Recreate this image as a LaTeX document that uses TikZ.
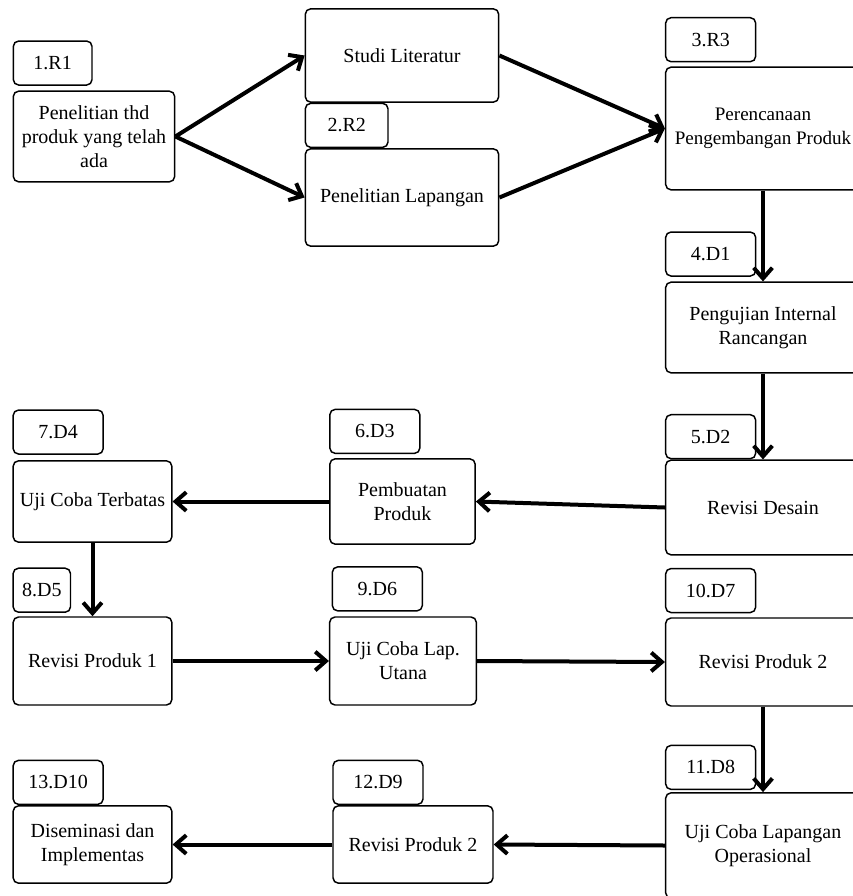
\documentclass[tikz,border=0pt]{standalone}
\usepackage{fontspec}
\setmainfont{Liberation Serif}
\usepackage{tikz}
\usetikzlibrary{positioning,arrows.meta}

\begin{document}
\begin{tikzpicture}[x=0.75pt, y=-0.75pt,
    box/.style={rectangle, draw, rounded corners=4pt, line width=1.1pt, align=center, inner sep=0pt, font=\fontsize{15}{18}\selectfont},
    tag/.style={rectangle, draw, rounded corners=4pt, line width=1.1pt, minimum width=67.5pt, minimum height=33pt, inner sep=0pt, font=\fontsize{15}{18}\selectfont},
    flow/.style={->, line width=3pt},
    >={Straight Barb[length=8pt, width=14pt, line width=3pt]}]
    \useasboundingbox (0,0) rectangle (853,896);
    \clip (0,0) rectangle (853,896);

    % main boxes
    \node[box, minimum width=121pt, minimum height=68pt] (P1) at (94,136.5) {Penelitian thd\\produk yang telah\\ada};
    \node[box, minimum width=145pt, minimum height=70pt] (SL) at (402,55.5) {Studi Literatur};
    \node[box, minimum width=145pt, minimum height=73pt] (PL) at (402,197.5) {Penelitian Lapangan};
    \node[box, minimum width=146pt, minimum height=92pt, font=\fontsize{14.3}{18}\selectfont] (PP) at (763,128.5) {Perencanaan\\Pengembangan Produk};
    \node[box, minimum width=146pt, minimum height=68pt] (PI) at (763,327.5) {Pengujian Internal\\Rancangan};
    \node[box, minimum width=146pt, minimum height=71pt] (RD) at (763,507.5) {Revisi Desain};
    \node[box, minimum width=109pt, minimum height=64pt] (PB) at (402.5,501.5) {Pembuatan\\Produk};
    \node[box, minimum width=119pt, minimum height=61pt] (UT) at (92.5,501.5) {Uji Coba Terbatas};
    \node[box, minimum width=119pt, minimum height=66pt] (RP1) at (92.5,661) {Revisi Produk 1};
    \node[box, minimum width=110pt, minimum height=66pt] (UL) at (403,661) {Uji Coba Lap.\\Utana};
    \node[box, minimum width=146pt, minimum height=66pt] (RP2) at (763,662) {Revisi Produk 2};
    \node[box, minimum width=146pt, minimum height=79pt] (UO) at (763,845.5) {Uji Coba Lapangan\\Operasional};
    \node[box, minimum width=120pt, minimum height=58pt] (RP3) at (413,844.5) {Revisi Produk 2};
    \node[box, minimum width=119pt, minimum height=58pt] (DI) at (92.5,844.5) {Diseminasi dan\\Implementas};

    % number tags
    \node[tag, minimum width=59pt, above right=3.5pt and 0pt of P1.north west] (t1) {1.R1};
    \node[tag, minimum width=62pt, above right=0pt and 0pt of PL.north west] (t2) {2.R2};
    \node[tag, above right=3pt and 0pt of PP.north west] (t3) {3.R3};
    \node[tag, above right=3.5pt and 0pt of PI.north west] (t4) {4.D1};
    \node[tag, above right=0pt and 0pt of RD.north west] (t5) {5.D2};
    \node[tag, above right=3pt and 0pt of PB.north west] (t6) {6.D3};
    \node[tag, above right=4pt and 0pt of UT.north west] (t7) {7.D4};
    \node[tag, minimum width=43pt, above right=2.5pt and 0pt of RP1.north west] (t8) {8.D5};
    \node[tag, above right=3.5pt and 2pt of UL.north west] (t9) {9.D6};
    \node[tag, above right=3pt and 0pt of RP2.north west] (t10) {10.D7};
    \node[tag, above right=1.5pt and 0pt of UO.north west] (t11) {11.D8};
    \node[tag, above right=0pt and 0pt of RP3.north west] (t12) {12.D9};
    \node[tag, above right=0pt and 0pt of DI.north west] (t13) {13.D10};

    % connectors
    \draw[flow] (P1.east) -- (SL.west);
    \draw[flow] (P1.east) -- (PL.west);
    \draw[flow] (SL.east) -- (PP.west);
    \draw[flow] (PL.east) -- (PP.west);
    \draw[flow] (PP.south) -- (PI.north);
    \draw[flow] (PI.south) -- (RD.north);
    \draw[flow] (RD.west) -- (PB.east);
    \draw[flow] (PB.west) -- (UT.east);
    \draw[flow] (UT.south) -- (RP1.north);
    \draw[flow] (RP1.east) -- (UL.west);
    \draw[flow] (UL.east) -- (RP2.west);
    \draw[flow] (RP2.south) -- (UO.north);
    \draw[flow] (UO.west) -- (RP3.east);
    \draw[flow] (RP3.west) -- (DI.east);
\end{tikzpicture}
\end{document}
